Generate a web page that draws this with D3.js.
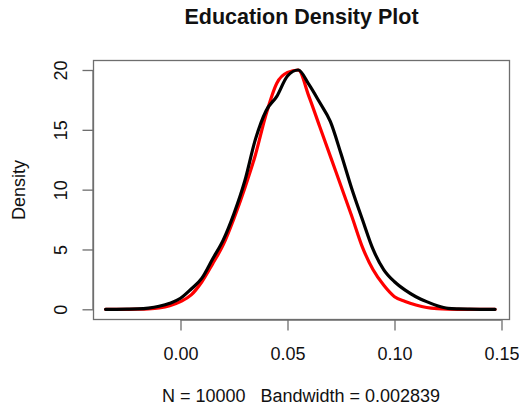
<!DOCTYPE html>
<html>
<head>
<meta charset="utf-8">
<script src="https://cdn.jsdelivr.net/npm/d3@7"></script>
<style>
  html, body { margin: 0; padding: 0; background: #fff; }
  svg text { font-family: "Liberation Sans", Arial, Helvetica, sans-serif; fill: #111; white-space: pre; }
</style>
</head>
<body>
<svg id="chart" width="519" height="410"></svg>
<script>
// ---- data ----
const gridX = [-0.035, -0.030, -0.025, -0.020, -0.015, -0.010, -0.005, 0.000, 0.005, 0.010,
               0.015, 0.020, 0.025, 0.030, 0.035, 0.040, 0.045, 0.050, 0.055, 0.060,
               0.065, 0.070, 0.075, 0.080, 0.085, 0.090, 0.095, 0.100, 0.105, 0.110,
               0.115, 0.120, 0.125, 0.130, 0.135, 0.140, 0.147];
const blackDensity = [0.0, 0.0, 0.01, 0.03, 0.1, 0.25, 0.5, 0.92, 1.7, 2.6,
                      4.2, 5.8, 8.0, 10.7, 14.2, 16.6, 17.8, 19.5, 20.0, 18.8,
                      17.3, 15.7, 13.0, 10.1, 7.5, 5.0, 3.3, 2.3, 1.6, 1.05,
                      0.64, 0.3, 0.08, 0.03, 0.01, 0.0, 0.0];
const redDensity   = [0.0, 0.0, 0.0, 0.01, 0.04, 0.12, 0.3, 0.64, 1.2, 2.3,
                      3.8, 5.4, 7.6, 10.1, 12.9, 16.3, 18.9, 19.8, 20.0, 17.8,
                      15.3, 12.8, 10.3, 7.8, 5.2, 3.3, 2.0, 1.05, 0.65, 0.36,
                      0.15, 0.05, 0.01, 0.0, 0.0, 0.0, 0.0];
const xTicks = [0.00, 0.05, 0.10, 0.15];
const xTickLabels = ["0.00", "0.05", "0.10", "0.15"];
const yTicks = [0, 5, 10, 15, 20];
const yTickLabels = ["0", "5", "10", "15", "20"];
const titleText = "Education Density Plot";
const xLabelText = "N = 10000   Bandwidth = 0.002839";
const yLabelText = "Density";

// ---- layout ----
const box = {left: 93, right: 509, top: 60, bottom: 319};
const svg = d3.select("#chart");

const x = d3.scaleLinear().domain([0, 0.05]).range([180.5, 287.5]);
const y = d3.scaleLinear().domain([0, 20]).range([309.3, 70]);

// frame
svg.append("rect")
  .attr("x", box.left + 0.5).attr("y", box.top + 0.5)
  .attr("width", box.right - box.left).attr("height", box.bottom - box.top)
  .attr("fill", "none").attr("stroke", "#6e6e6e").attr("stroke-width", 1.3);

// x axis
const xAxis = d3.axisBottom(x).tickValues(xTicks)
  .tickFormat((d, i) => xTickLabels[i]).tickSize(11).tickPadding(17);
const gx = svg.append("g").attr("transform", `translate(0,${box.bottom + 0.5})`).call(xAxis);
gx.select(".domain").attr("d", `M${x(0)},0.5H${x(0.15)}`).attr("stroke", "#6e6e6e").attr("stroke-width", 1.3);
gx.selectAll(".tick line").attr("stroke", "#6e6e6e").attr("stroke-width", 1.3);
gx.selectAll(".tick text").attr("font-size", 18).attr("fill", "#111")
  .style("font-family", "Liberation Sans, Arial, sans-serif");

// y axis
const yAxis = d3.axisLeft(y).tickValues(yTicks)
  .tickFormat((d, i) => yTickLabels[i]).tickSize(11).tickPadding(14);
const gy = svg.append("g").attr("transform", `translate(${box.left + 0.5},0)`).call(yAxis);
gy.select(".domain").attr("d", `M-0.5,${y(0)}V${y(20)}`).attr("stroke", "#6e6e6e").attr("stroke-width", 1.3);
gy.selectAll(".tick line").attr("stroke", "#6e6e6e").attr("stroke-width", 1.3);
gy.selectAll(".tick text")
  .attr("font-size", 18).attr("fill", "#111")
  .style("font-family", "Liberation Sans, Arial, sans-serif")
  .attr("text-anchor", "middle").attr("dy", null).attr("x", null)
  .attr("transform", "translate(-27,0) rotate(-90)");

// curves
const line = d3.line().x((d, i) => x(gridX[i])).y(d => y(d)).curve(d3.curveMonotoneX);
svg.append("path").datum(redDensity).attr("d", line)
  .attr("fill", "none").attr("stroke", "#ff0000").attr("stroke-width", 3.2)
  .attr("stroke-linejoin", "round").attr("stroke-linecap", "round");
svg.append("path").datum(blackDensity).attr("d", line)
  .attr("fill", "none").attr("stroke", "#000").attr("stroke-width", 3.2)
  .attr("stroke-linejoin", "round").attr("stroke-linecap", "round");

// title and labels
svg.append("text").attr("x", 301.5).attr("y", 24).attr("text-anchor", "middle")
  .attr("font-size", 21.5).attr("font-weight", "bold").text(titleText);
svg.append("text").attr("x", 301).attr("y", 402).attr("text-anchor", "middle")
  .attr("font-size", 18).text(xLabelText);
svg.append("text").attr("transform", "translate(25,190) rotate(-90)")
  .attr("text-anchor", "middle").attr("font-size", 18).text(yLabelText);
</script>
</body>
</html>
